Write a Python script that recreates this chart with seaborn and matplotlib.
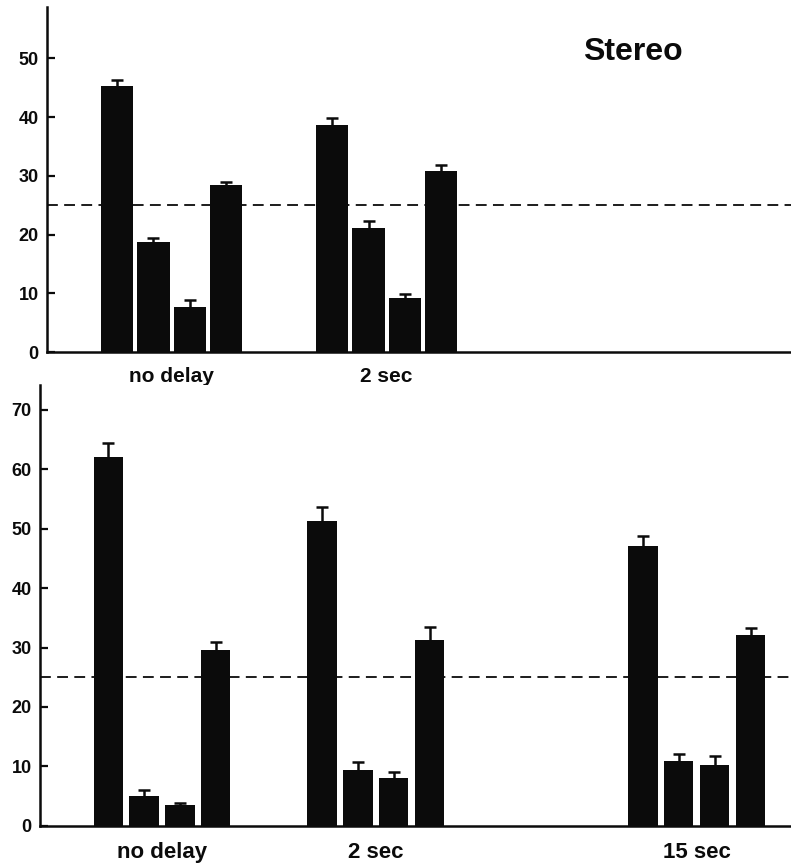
import numpy as np
import pandas as pd
import seaborn as sns
import matplotlib.pyplot as plt

# groups along the x axis (15 sec sits further right in the original)
group_labels = ["no delay", "2 sec", "15 sec"]
group_pos = [0, 1, 2.5]
conditions = ["1", "2", "3", "4"]

# top panel (Stereo) - no 15 sec group
top_nodelay = [45.3, 18.8, 7.6, 28.4]
top_nodelay_err = [1.1, 0.7, 1.2, 0.6]
top_2sec = [38.6, 21.2, 9.2, 30.8]
top_2sec_err = [1.3, 1.1, 0.7, 1.1]

# bottom panel
bot_nodelay = [62.1, 5.0, 3.5, 29.5]
bot_nodelay_err = [2.3, 1.0, 0.3, 1.5]
bot_2sec = [51.3, 9.3, 8.0, 31.3]
bot_2sec_err = [2.3, 1.4, 1.1, 2.1]
bot_15sec = [47.1, 10.9, 10.2, 32.1]
bot_15sec_err = [1.6, 1.1, 1.6, 1.2]

chance = 25

INK = "#0b0b0b"

sns.set_style("ticks")
plt.rcParams["font.family"] = ["Liberation Sans", "DejaVu Sans"]
plt.rcParams["font.weight"] = "bold"


def make_frame(groups, means, errs):
    rows = []
    for g, m, e in zip(groups, means, errs):
        for c, v, s in zip(conditions, m, e):
            rows.append({"delay": group_pos[group_labels.index(g)],
                         "condition": c, "value": v, "err": s})
    return pd.DataFrame(rows)


def draw_panel(ax, df, gap, ymax, yticks, labels, xlim, xsize, xpad):
    sns.barplot(data=df, x="delay", y="value", hue="condition",
                hue_order=conditions, native_scale=True, width=0.672,
                gap=gap, errorbar=None, palette={c: INK for c in conditions},
                saturation=1, linewidth=0, legend=False, ax=ax)
    # one-sided (upward) error bars on each bar
    lookup = dict(zip(df["value"].round(2), df["err"]))
    for bar in ax.patches:
        h = round(bar.get_height(), 2)
        if h in lookup:
            xc = bar.get_x() + bar.get_width() / 2
            top = h + lookup[h]
            ax.plot([xc, xc], [h, top], color=INK, lw=1.8, solid_capstyle="butt")
            ax.plot(xc, top, marker="_", ms=9, mew=1.8, color=INK)
    ax.axhline(chance, color=INK, lw=1.3, ls=(0, (6, 3.5)), zorder=0.5)

    ax.set_xlim(*xlim)
    ax.set_ylim(0, ymax)
    ax.set_yticks(yticks)
    ax.set_xticks([group_pos[group_labels.index(l)] for l in labels], labels)
    ax.set_xlabel("")
    ax.set_ylabel("")
    sns.despine(ax=ax)
    for side in ["left", "bottom"]:
        ax.spines[side].set_linewidth(1.8)
        ax.spines[side].set_color(INK)
    ax.tick_params(axis="y", direction="in", length=6, width=1.6,
                   labelsize=13, pad=6, colors=INK)
    ax.tick_params(axis="x", length=0, labelsize=xsize, pad=xpad, colors=INK)


fig = plt.figure(figsize=(7.91, 8.66), dpi=100)
ax_top = fig.add_axes([0.0594, 0.5935, 0.9406, 0.398])
ax_bot = fig.add_axes([0.0506, 0.0465, 0.9494, 0.509])

df_top = make_frame(["no delay", "2 sec"],
                    [top_nodelay, top_2sec],
                    [top_nodelay_err, top_2sec_err])
df_bot = make_frame(group_labels,
                    [bot_nodelay, bot_2sec, bot_15sec],
                    [bot_nodelay_err, bot_2sec_err, bot_15sec_err])

draw_panel(ax_top, df_top, 0.11, 58.7, range(0, 51, 10),
           ["no delay", "2 sec"], (-0.579, 2.88), 15, 11)
draw_panel(ax_bot, df_bot, 0.19, 74.2, range(0, 71, 10),
           group_labels, (-0.570, 2.94), 16, 12)

ax_top.text(0.788, 0.87, "Stereo", transform=ax_top.transAxes,
            ha="center", va="center", fontsize=23, fontweight="bold",
            color=INK)

fig.savefig("out.png", dpi=100)
